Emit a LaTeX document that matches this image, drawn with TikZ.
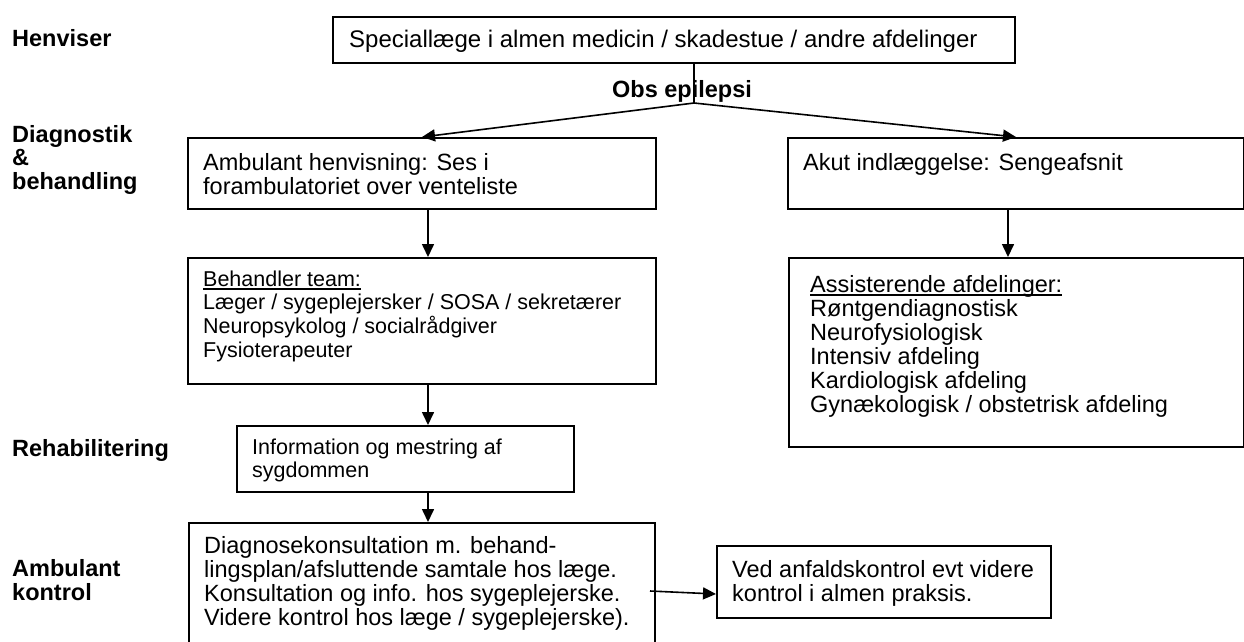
\documentclass[tikz,border=0pt]{standalone}
\usepackage{fontspec}
\setmainfont{Liberation Sans}
\usetikzlibrary{arrows.meta}

% text sizes (picture is laid out in 1pt units)
\newcommand\mtxt{\fontsize{23.5pt}{23.5pt}\selectfont}
\newcommand\ttxt{\fontsize{24pt}{24pt}\selectfont}
\newcommand\teamtxt{\fontsize{21.5pt}{23.5pt}\selectfont}
\newcommand\stxt{\fontsize{21.5pt}{23pt}\selectfont}
% underline with a visible rule
\newcommand\ulbox[1]{\setbox0\hbox{#1}\rlap{\rule[-3.5pt]{\wd0}{1.4pt}}\box0}

\tikzset{
  box/.style={draw, line width=2pt, rectangle, inner sep=0pt, anchor=north west},
  txt/.style={anchor=base west, inner sep=0pt, font=\mtxt},
  lbl/.style={anchor=base west, inner sep=0pt, font=\mtxt\bfseries},
  arr/.style={line width=1.6pt, -{Triangle[length=13pt,width=12pt]}},
  link/.style={line width=1.6pt}
}

\begin{document}
\begin{tikzpicture}[x=1pt, y=-1pt]
\useasboundingbox (0,0) rectangle (1244,641);

% row labels
\node[lbl] (lHenv) at (12,46) {Henviser};
\node[lbl] (lDiag) at (12,142) {\begin{tabular}[t]{@{}l@{}}Diagnostik\\\&\\behandling\end{tabular}};
\node[lbl] (lRehab) at (12,456) {Rehabilitering};
\node[lbl] (lAmb) at (12,576) {\begin{tabular}[t]{@{}l@{}}Ambulant\\kontrol\end{tabular}};

% boxes
\node[box, minimum width=682pt, minimum height=46pt] (top) at (332,16) {};
\node[box, minimum width=468pt, minimum height=71pt] (amb) at (187,137) {};
\node[box, minimum width=456pt, minimum height=71pt] (akut) at (787,137) {};
\node[box, minimum width=468pt, minimum height=126pt] (team) at (187,257) {};
\node[box, minimum width=455pt, minimum height=189pt] (assist) at (788,257) {};
\node[box, minimum width=337pt, minimum height=66pt] (info) at (236,425) {};
\node[box, minimum width=466pt, minimum height=126pt] (ctrl) at (188,522) {};
\node[box, minimum width=334pt, minimum height=72pt] (ved) at (716,545) {};

% box texts
\node[txt, font=\ttxt] (tTop) at (349,47) {Speciallæge i almen medicin / skadestue / andre afdelinger};
\node[anchor=base, inner sep=0pt, font=\mtxt\bfseries] (obs) at (682,97) {Obs epilepsi};
\node[txt] (tAmb) at (203,170.5) {\begin{tabular}[t]{@{}l@{}}Ambulant henvisning: Ses i\\forambulatoriet over venteliste\end{tabular}};
\node[txt] (tAkut) at (803,170.5) {Akut indlæggelse: Sengeafsnit};
\node[txt, font=\teamtxt] (tTeam) at (203,286) {\begin{tabular}[t]{@{}l@{}}\ulbox{Behandler team:}\\Læger / sygeplejersker / SOSA / sekretærer\\Neuropsykolog / socialrådgiver\\Fysioterapeuter\end{tabular}};
\node[txt] (tAssist) at (810,292) {\begin{tabular}[t]{@{}l@{}}\ulbox{Assisterende afdelinger:}\\Røntgendiagnostisk\\Neurofysiologisk\\Intensiv afdeling\\Kardiologisk afdeling\\Gynækologisk / obstetrisk afdeling\end{tabular}};
\node[txt, font=\stxt] (tInfo) at (252,454) {\begin{tabular}[t]{@{}l@{}}Information og mestring af\\sygdommen\end{tabular}};
\node[txt] (tCtrl) at (204,553) {\begin{tabular}[t]{@{}l@{}}Diagnosekonsultation m. behand-\\lingsplan/afsluttende samtale hos læge.\\Konsultation og info. hos sygeplejerske.\\Videre kontrol hos læge / sygeplejerske).\end{tabular}};
\node[txt] (tVed) at (732,577) {\begin{tabular}[t]{@{}l@{}}Ved anfaldskontrol evt videre\\kontrol i almen praksis.\end{tabular}};

% connectors
\coordinate (split) at (694,103);
\coordinate (colL) at (428,0);
\coordinate (colR) at (1008,0);
\draw[link] (top.south -| split) -- (split);
\draw[arr] (split) -- (528,137 -| amb.north);
\draw[arr] (split) -- (862,137 -| akut.north);
\draw[arr] (amb.south -| colL) -- (team.north -| colL);
\draw[arr] (akut.south -| colR) -- (assist.north -| colR);
\draw[arr] (team.south -| colL) -- (info.north -| colL);
\draw[arr] (info.south -| colL) -- (ctrl.north -| colL);
\draw[arr] (650,591) -- (ved.west |- 0,594);
\end{tikzpicture}
\end{document}
